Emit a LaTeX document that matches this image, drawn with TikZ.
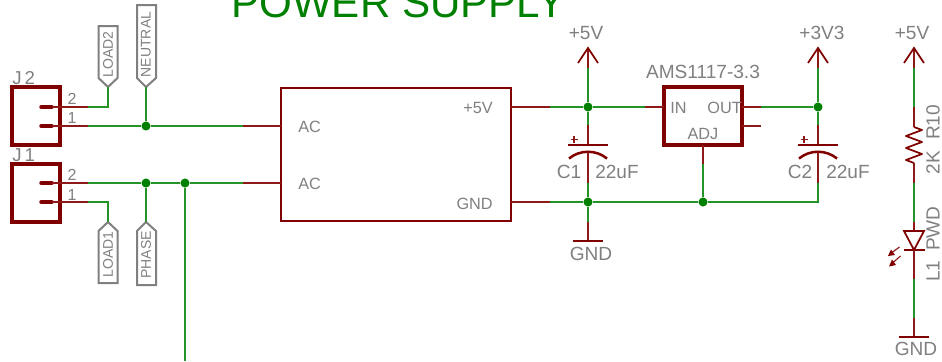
\documentclass[tikz,border=0pt]{standalone}
\usepackage{fontspec}
\setmainfont{Liberation Sans}
\definecolor{netgreen}{HTML}{008000}
\definecolor{symred}{HTML}{800000}
\definecolor{labgray}{HTML}{808080}
\newcommand{\fs}[1]{\fontsize{#1}{#1}\selectfont}
\tikzset{
  net/.style={draw=netgreen!85!white,line width=0.85pt,line cap=butt},
  pinw/.style={draw=symred!90!white,line width=0.85pt},
  sym/.style={draw=symred,line width=1.5pt,line join=miter},
  stub/.style={draw=symred,line width=2.6pt,line cap=round},
  jbox/.style={draw=symred,line width=2.7pt,fill=white,minimum width=36pt,minimum height=43.5pt,inner sep=0pt,outer sep=0pt},
  flag/.style={draw=labgray,line width=1.5pt,line join=miter,fill=white},
  dot/.style={circle,fill=netgreen,inner sep=0pt,minimum size=6.8pt},
  lab/.style={text=labgray,inner sep=0pt,font=\fs{10.5}},
  labm/.style={text=labgray,inner sep=0pt,font=\fs{12.2}},
  labb/.style={text=labgray,inner sep=0pt,font=\fs{14.3}},
  pinno/.style={text=labgray,inner sep=0pt,font=\fs{12}},
  regbox/.style={draw=symred,line width=2.6pt,minimum width=58.5pt,minimum height=43.5pt,inner sep=0pt,outer sep=0pt},
  modbox/.style={draw=symred,line width=1.9pt,minimum width=172.5pt,minimum height=99.75pt,inner sep=0pt,outer sep=0pt},
}
\begin{document}
\begin{tikzpicture}[x=0.75pt,y=-0.75pt]
\path[use as bounding box,fill=white] (0,0) rectangle (942,361);
\clip (0,0) rectangle (942,361);
% title
\node[anchor=base west,inner sep=0pt,text=netgreen,font=\fs{31.6}] (title) at (231,17) {POWER SUPPLY};

% connectors J2/J1
\node[jbox] (j2) at (36,116) {};
\node[jbox] (j1) at (36,193) {};
\node[labb,font=\fs{14},anchor=base west] (j2n) at (12,84) {J\,2};
\node[labb,font=\fs{14},anchor=base west] (j1n) at (12,161) {J\,1};
\node[pinno] (j2p2) at (72,98.5) {2};
\node[pinno] (j2p1) at (72,117.5) {1};
\node[pinno] (j1p2) at (72,175) {2};
\node[pinno] (j1p1) at (72,194.5) {1};

\foreach \n/\yy in {a/107,b/126,c/183,d/202}{
  \coordinate (s\n) at (41,\yy);
  \coordinate (e\n) at (52,\yy);
  \coordinate (f\n) at (88,\yy);
  \draw[stub] (s\n) -- (e\n);
  \draw[pinw] (e\n) -- (f\n);
}
% flags
\coordinate (load2tip) at (108,87);
\coordinate (neutip) at (146,87);
\coordinate (load1tip) at (108,222);
\coordinate (phatip) at (146,222);
\draw[flag] (load2tip) -- (117.5,78) -- (117.5,26) -- (98.5,26) -- (98.5,78) -- cycle;
\draw[flag] (neutip) -- (156,78) -- (156,5) -- (137,5) -- (137,78) -- cycle;
\draw[flag] (load1tip) -- (117.5,231) -- (117.5,283) -- (98.5,283) -- (98.5,231) -- cycle;
\draw[flag] (phatip) -- (156,231) -- (156,285) -- (137,285) -- (137,231) -- cycle;
\node[lab,rotate=90] (load2) at (108,54.5) {LOAD2};
\node[lab,rotate=90] (neutral) at (146,44.5) {NEUTRAL};
\node[lab,rotate=90] (load1) at (108,254.5) {LOAD1};
\node[lab,rotate=90] (phase) at (146,255) {PHASE};

% AC module
\node[modbox] (mod) at (396,154.5) {};
\node[labm,anchor=west] (ac1) at (298,126.5) {AC};
\node[labm,anchor=west] (ac2) at (298,183.5) {AC};
\node[labm,anchor=east] (mv5) at (493,107.5) {+5V};
\node[labm,anchor=east] (mgnd) at (493,203.5) {GND};

\coordinate (ac1a) at (243,126); \coordinate (ac1b) at (281,126);
\coordinate (ac2a) at (243,183); \coordinate (ac2b) at (281,183);
\coordinate (v5a) at (511,107); \coordinate (v5b) at (550,107);
\coordinate (gna) at (511,202); \coordinate (gnb) at (550,202);
\draw[pinw] (ac1a) -- (ac1b);
\draw[pinw] (ac2a) -- (ac2b);
\draw[pinw] (v5a) -- (v5b);
\draw[pinw] (gna) -- (gnb);

% left nets
\node[dot] (dn) at (146,126) {};
\node[dot] (dp) at (146,183) {};
\node[dot] (dq) at (185,183) {};
\coordinate (downend) at (185,361);
\draw[net] (fa) -| (load2tip);
\draw[net] (fb) -- (dn) -- (ac1a);
\draw[net] (dn) -- (neutip);
\draw[net] (fc) -- (dp) -- (dq) -- (ac2a);
\draw[net] (dp) -- (phatip);
\draw[net] (fd) -| (load1tip);
\draw[net] (dq) -- (downend);

% C1 column
\node[dot] (d5) at (588,107) {};
\node[dot] (dg1) at (588,202) {};
\coordinate (v51tip) at (588,48); \coordinate (v51g) at (588,68);
\coordinate (c1top) at (588,125); \coordinate (c1plate) at (588,145);
\coordinate (c1curve) at (588,153); \coordinate (c1low) at (588,183);
\coordinate (g1a) at (588,222); \coordinate (g1bar) at (588,241);
\draw[pinw] (v51g) -- (v51tip);
\draw[sym,line width=1.3pt] (578,63) -- (v51tip) -- (598,63);
\draw[pinw] (c1top) -- (c1plate);
\draw[sym,line width=1.3pt] (568,145) -- (608,145);
\draw[sym,line width=1.9pt] (569,158.5) .. controls (580,149.5) and (596,149.5) .. (607,158.5);
\draw[pinw] (c1curve) -- (c1low);
\draw[pinw,line width=1.1pt] (570.5,139.5) -- (577.5,139.5) (574,136) -- (574,143);
\draw[pinw] (g1a) -- (g1bar);
\draw[sym,line width=1.3pt] (573,241) -- (603,241);
\node[labb] (v5l1) at (586,33) {+5V};
\node[labb] (gndl1) at (591,253.5) {GND};
\node[labb] (c1n) at (569,172) {C1};
\node[labb] (c1v) at (617,171.5) {22uF};

% regulator
\node[regbox] (reg) at (703,116) {};
\node[labb] (regn) at (703,72) {AMS1117-3.3};
\node[labm,anchor=west] (rin) at (670,107.5) {IN};
\node[labm,anchor=east] (rout) at (742,107.5) {OUT};
\node[labm] (radj) at (703,134) {ADJ};
\coordinate (ina) at (645,107); \coordinate (inb) at (664,107);
\coordinate (oa) at (742,107); \coordinate (ob) at (761,107);
\coordinate (nca) at (742,126); \coordinate (ncb) at (761,126);
\coordinate (adja) at (703,145); \coordinate (adjb) at (703,164);
\draw[pinw] (ina) -- (inb);
\draw[pinw] (oa) -- (ob);
\draw[pinw] (nca) -- (ncb);
\draw[pinw] (adja) -- (adjb);
\node[dot] (dadj) at (703,202) {};

% C2 column
\node[dot] (d33) at (818,107) {};
\coordinate (v33tip) at (818,48); \coordinate (v33g) at (818,68);
\coordinate (c2top) at (818,125); \coordinate (c2plate) at (818,145);
\coordinate (c2curve) at (818,153); \coordinate (c2low) at (818,183);
\coordinate (c2corner) at (818,202);
\draw[pinw] (v33g) -- (v33tip);
\draw[sym,line width=1.3pt] (808,63) -- (v33tip) -- (828,63);
\draw[pinw] (c2top) -- (c2plate);
\draw[sym,line width=1.3pt] (798,145) -- (838,145);
\draw[sym,line width=1.9pt] (799,158.5) .. controls (810,149.5) and (826,149.5) .. (837,158.5);
\draw[pinw] (c2curve) -- (c2low);
\draw[pinw,line width=1.1pt] (800.5,139.5) -- (807.5,139.5) (804,136) -- (804,143);
\node[labb] (v33l) at (822,33) {+3V3};
\node[labb] (c2n) at (800,172) {C2};
\node[labb] (c2v) at (848,171.5) {22uF};

% mid nets
\draw[net] (v5b) -- (d5) -- (ina);
\draw[net] (v51g) -- (d5) -- (c1top);
\draw[net] (c1low) -- (dg1) -- (g1a);
\draw[net] (gnb) -- (dg1) -- (dadj) -- (c2corner) -- (c2low);
\draw[net] (adjb) -- (dadj);
\draw[net] (ob) -- (d33) -- (c2top);
\draw[net] (v33g) -- (d33);

% LED column
\coordinate (v3tip) at (914,48); \coordinate (v3g) at (914,68);
\coordinate (r1a) at (914,107); \coordinate (r1b) at (914,127);
\coordinate (r2a) at (914,163); \coordinate (r2b) at (914,183);
\coordinate (l1a) at (914,222); \coordinate (l1b) at (914,231);
\coordinate (l2a) at (914,250); \coordinate (l2b) at (914,279);
\coordinate (g3a) at (914,318); \coordinate (g3bar) at (914,337);
\draw[pinw] (v3g) -- (v3tip);
\draw[sym,line width=1.3pt] (904,63) -- (v3tip) -- (924,63);
\draw[net] (v3g) -- (r1a);
\draw[pinw] (r1a) -- (r1b);
\draw[sym,line width=1.3pt,line join=round] (r1b) -- (922,130) -- (906,136) -- (922,142) -- (906,148) -- (922,154) -- (906,160) -- (r2a);
\draw[pinw] (r2a) -- (r2b);
\draw[net] (r2b) -- (l1a);
\draw[pinw] (l1a) -- (l1b);
\draw[sym,line width=1.3pt] (904,231) -- (924,231) -- (914,250) -- cycle;
\draw[sym,line width=1.3pt] (904,250) -- (925,250);
\draw[pinw] (l2a) -- (l2b);
\draw[net] (l2b) -- (g3a);
\draw[pinw] (g3a) -- (g3bar);
\draw[sym,line width=1.3pt] (899,337) -- (929,337);
\draw[pinw] (899.5,247) -- (892,252.5);
\draw[pinw] (900.5,256) -- (893,262.5);
\fill[symred] (888,256) -- (895,255) -- (891,249.5) -- cycle;
\fill[symred] (889,266.5) -- (896,265) -- (892,259.5) -- cycle;
\node[labb] (v5l3) at (912,33) {+5V};
\node[labb] (gndl3) at (916,349) {GND};
\node[labb,rotate=90] (r10) at (933,122.5) {R10};
\node[labb,rotate=90] (r2k) at (933,162.5) {2K};
\node[labb,rotate=90] (pwd) at (933,228.5) {PWD};
\node[labb,rotate=90] (l1n) at (933,271) {L1};
\end{tikzpicture}
\end{document}
